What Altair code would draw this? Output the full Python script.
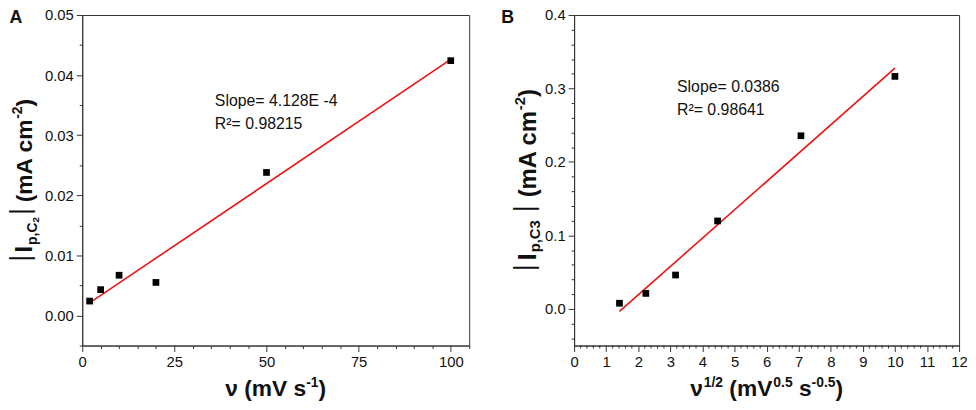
import altair as alt
import pandas as pd

# ---- Panel A data ----
a_x = [2, 5, 10, 20, 50, 100]
a_y = [0.0024, 0.0043, 0.0067, 0.0055, 0.0238, 0.0424]
a_fit_x = [2, 100]
a_fit_y = [0.0021, 0.0426]
a_notes = ["Slope= 4.128E -4", "R²= 0.98215"]

# ---- Panel B data ----
b_x = [1.414, 2.236, 3.162, 4.472, 7.071, 10.0]
b_y = [0.0076, 0.021, 0.046, 0.1196, 0.2356, 0.3164]
b_fit_x = [1.414, 10.0]
b_fit_y = [-0.0036, 0.3276]
b_notes = ["Slope= 0.0386", "R²= 0.98641"]

# ---- tick values ----
a_xticks = list(range(0, 106, 5))
a_yticks = [round(-0.005 + 0.005 * i, 3) for i in range(12)]
b_xmajor = list(range(0, 13))
b_xminor = [round(0.2 * i, 1) for i in range(61) if i % 5 != 0]
b_yticks = [round(-0.04 + 0.02 * i, 2) for i in range(23)]

# ---- axis titles as rich-text pieces: (text, size, raise, weight, gap before) ----
a_xtitle = [("ν", 23, 0, "bold", 0), ("(mV s", 23, 0, "bold", 6.4), ("-1", 14, 9, "bold", 0),
            (")", 23, 0, "bold", 0)]
a_ytitle = [("|", 27, 3, "normal", 0), ("I", 25, 0, "bold", 2), ("p,C", 14, -5, "bold", 1),
            ("2", 10, -7, "bold", 0), ("|", 27, 3, "normal", 2), ("(mA cm", 23, 0, "bold", 6),
            ("-2", 14, 10, "bold", 0), (")", 23, 0, "bold", 0)]
b_xtitle = [("ν", 23, 0, "bold", 0), ("1/2", 14, 9, "bold", 1), ("(mV", 23, 0, "bold", 6.4),
            ("0.5", 14, 9, "bold", 1), ("s", 23, 0, "bold", 6.4), ("-0.5", 14, 9, "bold", 0),
            (")", 23, 0, "bold", 0)]
b_ytitle = [("|", 27, 3, "normal", 0), ("I", 26, 0, "bold", 4), ("p,C3", 15, -5, "bold", 1),
            ("|", 27, 3, "normal", 8), ("(mA cm", 24, 0, "bold", 8),
            ("-2", 15, 11, "bold", 0), (")", 24, 0, "bold", 0)]

FONT = "Liberation Sans"
AXC = "#333333"
TXT = "#111111"
W, H = 391, 334

WB = {" ": .278, "(": .333, ")": .333, "m": .889, "V": .667, "s": .556, "A": .722,
      "c": .556, "C": .722, "I": .278, "p": .611, ",": .278, ".": .278, "-": .333,
      "/": .278, "ν": .556, "|": .280}
WR = {"|": .260}


def wid(s, size, weight):
    tab = WB if weight == "bold" else WR
    return sum(tab.get(ch, .556) for ch in s) * size


def rich(pieces, horizontal, center, base):
    total = sum(wid(t, s, w) + g for t, s, r, w, g in pieces)
    layers = []
    off = 0.0
    for t, s, r, w, g in pieces:
        off += g
        df = pd.DataFrame({"t": [t]})
        if horizontal:
            enc = dict(text="t:N", x=alt.value(center - total / 2 + off),
                       y=alt.value(base - r))
            ang = 0
        else:
            enc = dict(text="t:N", x=alt.value(base - r),
                       y=alt.value(center + total / 2 - off))
            ang = 270
        layers.append(alt.Chart(df).mark_text(
            align="left", baseline="alphabetic", font=FONT, fontSize=s,
            fontWeight=w, color=TXT, angle=ang).encode(**enc))
        off += wid(t, s, w)
    return layers


def axis(values, test, fmt, orient):
    kw = {}
    if test is None:
        kw["tickSize"] = 6
    else:
        kw["tickSize"] = {"condition": {"test": test, "value": 6}, "value": 3}
        kw["labelExpr"] = f"({test}) ? datum.label : ''"
    return alt.Axis(
        values=values,
        format=fmt,
        tickColor=AXC,
        domainColor=AXC,
        labelFont=FONT,
        labelFontSize=15,
        labelColor=TXT,
        labelPadding=3,
        labelOverlap=False,
        labelFlush=False,
        grid=False,
        title=None,
        orient=orient,
        **kw,
    )


def note(text, x, y):
    return alt.Chart(pd.DataFrame({"t": [text]})).mark_text(
        align="left", baseline="alphabetic", font=FONT, fontSize=16, color=TXT
    ).encode(text="t:N", x=alt.value(x), y=alt.value(y))


def panel(xs, ys, fx, fy, notes, xdom, ydom, xax, yax, letter, nx, ny, w, h,
          xtitle, ytitle, ytitle_x, xminor=None):
    df = pd.DataFrame({
        "x": list(xs) + list(fx),
        "y": list(ys) + list(fy),
        "kind": ["pt"] * len(xs) + ["fit"] * len(fx),
    })
    xsc = alt.Scale(domain=xdom, nice=False, zero=False)
    ysc = alt.Scale(domain=ydom, nice=False, zero=False)
    base = alt.Chart(df).encode(
        x=alt.X("x:Q", scale=xsc, axis=xax),
        y=alt.Y("y:Q", scale=ysc, axis=yax),
    )
    line = base.transform_filter(alt.datum.kind == "fit").mark_line(
        color="#ee1111", strokeWidth=1.6)
    sq = base.transform_filter(alt.datum.kind == "pt").mark_square(
        color="black", size=46, opacity=1)
    lab = alt.Chart(pd.DataFrame({"t": [letter]})).mark_text(
        align="center", baseline="alphabetic", font=FONT, fontSize=18,
        fontWeight="bold", color=TXT
    ).encode(text="t:N", x=alt.value(-67), y=alt.value(8))
    layers = [line, sq]
    if xminor is not None:
        layers.append(alt.Chart(pd.DataFrame({"x": xminor})).mark_rule(
            color=AXC, strokeWidth=1).encode(
            x=alt.X("x:Q", scale=xsc, axis=xax),
            y=alt.value(h), y2=alt.value(h + 3)))
    layers += [note(notes[0], nx, ny), note(notes[1], nx, ny + 23), lab]
    layers += rich(xtitle, True, w / 2, h + 51)
    layers += rich(ytitle, False, h / 2, ytitle_x)
    return alt.layer(*layers).properties(width=w, height=h)


ax_a_x = axis(a_xticks, "datum.value % 25 === 0", "d", "bottom")
ax_a_y = axis(a_yticks, "abs(datum.value*100 - round(datum.value*100)) < 1e-6", ".2f", "left")
ax_b_x = axis(b_xmajor, None, "d", "bottom")
ax_b_y = axis(b_yticks, "abs(datum.value*10 - round(datum.value*10)) < 1e-6", ".1f", "left")

pa = panel(a_x, a_y, a_fit_x, a_fit_y, a_notes, [0, 105], [-0.005, 0.05],
           ax_a_x, ax_a_y, "A", 134, 92, W, H, a_xtitle, a_ytitle, -51)
pb = panel(b_x, b_y, b_fit_x, b_fit_y, b_notes, [0, 12], [-0.05, 0.4],
           ax_b_x, ax_b_y, "B", 104, 78, 389, H, b_xtitle, b_ytitle, -39, b_xminor)

chart = alt.hconcat(pa, pb, spacing=31).properties(
    padding={"left": -2, "top": -3, "right": 0, "bottom": 0}
).configure_view(stroke=AXC, strokeWidth=1)

chart.save("out.html", embed_options={"renderer": "svg", "actions": False})
